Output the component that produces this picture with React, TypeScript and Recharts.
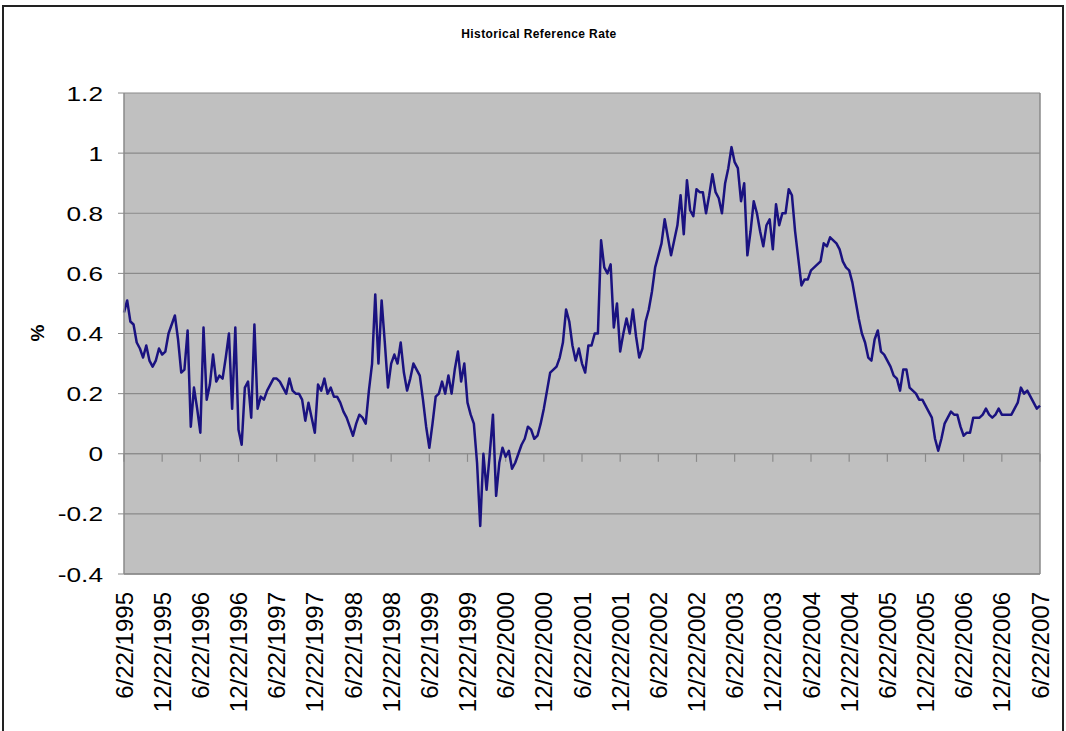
import React from 'react';
import { LineChart, Line, XAxis, YAxis, CartesianGrid, ReferenceLine } from 'recharts';

// half-year category labels along the bottom
const dateLabels = [
  '6/22/1995', '12/22/1995', '6/22/1996', '12/22/1996', '6/22/1997', '12/22/1997',
  '6/22/1998', '12/22/1998', '6/22/1999', '12/22/1999', '6/22/2000', '12/22/2000',
  '6/22/2001', '12/22/2001', '6/22/2002', '12/22/2002', '6/22/2003', '12/22/2003',
  '6/22/2004', '12/22/2004', '6/22/2005', '12/22/2005', '6/22/2006', '12/22/2006',
  '6/22/2007',
];
const yTicks = [-0.4, -0.2, 0, 0.2, 0.4, 0.6, 0.8, 1, 1.2];
const pointsPerHalfYear = 12;

// reference rate (%), read off the picture roughly twice a month
const rates95_96 = [
  0.47, 0.51, 0.44, 0.43, 0.37, 0.35, 0.32, 0.36, 0.31, 0.29, 0.31, 0.35,
  0.33, 0.34, 0.40, 0.43, 0.46, 0.38, 0.27, 0.28, 0.41, 0.09, 0.22, 0.15,
];
const rates96_97 = [
  0.07, 0.42, 0.18, 0.23, 0.33, 0.24, 0.26, 0.25, 0.32, 0.40, 0.15, 0.42,
  0.08, 0.03, 0.22, 0.24, 0.12, 0.43, 0.15, 0.19, 0.18, 0.21, 0.23, 0.25,
];
const rates97_98 = [
  0.25, 0.24, 0.22, 0.20, 0.25, 0.21, 0.20, 0.20, 0.18, 0.11, 0.17, 0.12,
  0.07, 0.23, 0.21, 0.25, 0.20, 0.22, 0.19, 0.19, 0.17, 0.14, 0.12, 0.09,
];
const rates98_99 = [
  0.06, 0.10, 0.13, 0.12, 0.10, 0.21, 0.30, 0.53, 0.30, 0.51, 0.37, 0.22, 0.30,
  0.33, 0.30, 0.37, 0.27, 0.21, 0.25, 0.30, 0.28, 0.26, 0.18, 0.09, 0.02,
];
const rates99_00 = [
  0.10, 0.19, 0.20, 0.24, 0.20, 0.26, 0.20, 0.28, 0.34, 0.24, 0.30, 0.17,
  0.13, 0.10, -0.03, -0.24, 0.0, -0.12, 0.0, 0.13, -0.14, -0.03, 0.02, -0.01,
];
const rates00_01 = [
  0.01, -0.05, -0.03, 0.0, 0.03, 0.05, 0.09, 0.08, 0.05, 0.06, 0.10, 0.15,
  0.21, 0.27, 0.28, 0.29, 0.32, 0.37, 0.48, 0.44, 0.36, 0.31, 0.35, 0.30,
];
const rates01_02 = [
  0.27, 0.36, 0.36, 0.40, 0.40, 0.71, 0.62, 0.60, 0.63, 0.42, 0.50, 0.34,
  0.40, 0.45, 0.40, 0.48, 0.39, 0.32, 0.35, 0.44, 0.48, 0.54, 0.62, 0.66,
];
const rates02_03 = [
  0.70, 0.78, 0.72, 0.66, 0.71, 0.76, 0.86, 0.73, 0.91, 0.81, 0.79, 0.88,
  0.87, 0.87, 0.80, 0.86, 0.93, 0.87, 0.85, 0.80, 0.90, 0.95, 1.02, 0.97,
];
const rates03_04 = [
  0.95, 0.84, 0.90, 0.66, 0.74, 0.84, 0.80, 0.74, 0.69, 0.76, 0.78, 0.68,
  0.83, 0.76, 0.80, 0.80, 0.88, 0.86, 0.74, 0.65, 0.56, 0.58, 0.58, 0.61,
];
const rates04_05 = [
  0.62, 0.63, 0.64, 0.70, 0.69, 0.72, 0.71, 0.70, 0.68, 0.64, 0.62, 0.61, 0.57,
  0.51, 0.45, 0.40, 0.37, 0.32, 0.31, 0.38, 0.41, 0.34, 0.33, 0.31, 0.29,
];
const rates05_07 = [
  0.26, 0.25, 0.21, 0.28, 0.28, 0.22, 0.21, 0.20, 0.18, 0.18, 0.16, 0.14,
  0.12, 0.05, 0.01, 0.05, 0.10, 0.12, 0.14, 0.13, 0.13, 0.09, 0.06, 0.07,
  0.07, 0.12, 0.12, 0.12, 0.13, 0.15, 0.13, 0.12, 0.13, 0.15, 0.13, 0.13,
  0.13, 0.13, 0.15, 0.17, 0.22, 0.20, 0.21, 0.19, 0.17, 0.15, 0.16,
];

const rates = [
  ...rates95_96, ...rates96_97, ...rates97_98, ...rates98_99, ...rates99_00, ...rates00_01,
  ...rates01_02, ...rates02_03, ...rates03_04, ...rates04_05, ...rates05_07,
];
const data = rates.map((rate, i) => ({ t: i, rate }));
const xTicks = dateLabels.map((_, i) => i * pointsPerHalfYear);
const xMax = xTicks[xTicks.length - 1];

const font = '"Liberation Sans", Arial, Helvetica, sans-serif';
const gridGray = '#8a8a8a';

const DateTick = ({ x, y, payload }: any) => (
  <text
    x={x}
    y={y}
    dy="0.36em"
    transform={`rotate(-90, ${x}, ${y})`}
    textAnchor="end"
    fontSize={24}
    fontFamily={font}
    fill="#000"
  >
    {dateLabels[Math.round(payload.value / pointsPerHalfYear)]}
  </text>
);

const ValueTick = ({ x, y, payload }: any) => (
  <g transform={`translate(${x},${y}) scale(1.25,1)`}>
    <text x={0} y={0} dy="0.36em" textAnchor="end" fontSize={21} fontFamily={font} fill="#000">
      {String(payload.value)}
    </text>
  </g>
);

export default function App() {
  return (
    <div style={{ position: 'absolute', left: 0, top: 0, width: 1066, height: 731, background: '#fff', overflow: 'hidden' }}>
      <div
        style={{
          position: 'absolute', left: 2, top: 5, width: 1058, height: 760,
          borderLeft: '2px solid #222', borderTop: '2px solid #222', borderRight: '2px solid #222',
        }}
      />
      <div
        style={{
          position: 'absolute', left: 6, top: 27, width: 1066, textAlign: 'center',
          fontFamily: font, fontWeight: 'bold', fontSize: 12, letterSpacing: 0.4, color: '#000',
        }}
      >
        Historical Reference Rate
      </div>
      <div
        style={{
          position: 'absolute', left: 26, top: 322, width: 24, textAlign: 'center',
          fontFamily: font, fontWeight: 'bold', fontSize: 19, color: '#000',
          transform: 'rotate(-90deg)',
        }}
      >
        %
      </div>
      <div style={{ position: 'absolute', left: 0, top: 0 }}>
        <LineChart width={1066} height={731} data={data} margin={{ top: 93, right: 26, left: 0, bottom: 0 }}>
          <CartesianGrid horizontal vertical={false} fill="#c0c0c0" stroke={gridGray} strokeWidth={1.2} />
          <XAxis
            dataKey="t"
            type="number"
            domain={[0, xMax]}
            ticks={xTicks}
            interval={0}
            height={157}
            tickLine={false}
            tickSize={6}
            tickMargin={12}
            axisLine={{ stroke: gridGray, strokeWidth: 1.5 }}
            tick={<DateTick />}
          />
          <YAxis
            type="number"
            domain={[-0.4, 1.2]}
            ticks={yTicks}
            interval={0}
            width={124}
            tickSize={6}
            tickMargin={15}
            tickLine={{ stroke: gridGray }}
            axisLine={{ stroke: gridGray, strokeWidth: 1.5 }}
            tick={<ValueTick />}
          />
          <ReferenceLine x={xMax} stroke={gridGray} strokeWidth={1.5} />
          <ReferenceLine y={0} stroke={gridGray} strokeWidth={1.2} />
          {xTicks.map((t) => (
            <ReferenceLine
              key={t}
              segment={[{ x: t, y: 0 }, { x: t, y: -0.027 }]}
              stroke={gridGray}
              strokeWidth={1.2}
              ifOverflow="visible"
            />
          ))}
          <Line
            type="linear"
            dataKey="rate"
            stroke="#1a1280"
            strokeWidth={2.5}
            strokeLinejoin="round"
            dot={false}
            isAnimationActive={false}
          />
        </LineChart>
      </div>
    </div>
  );
}
